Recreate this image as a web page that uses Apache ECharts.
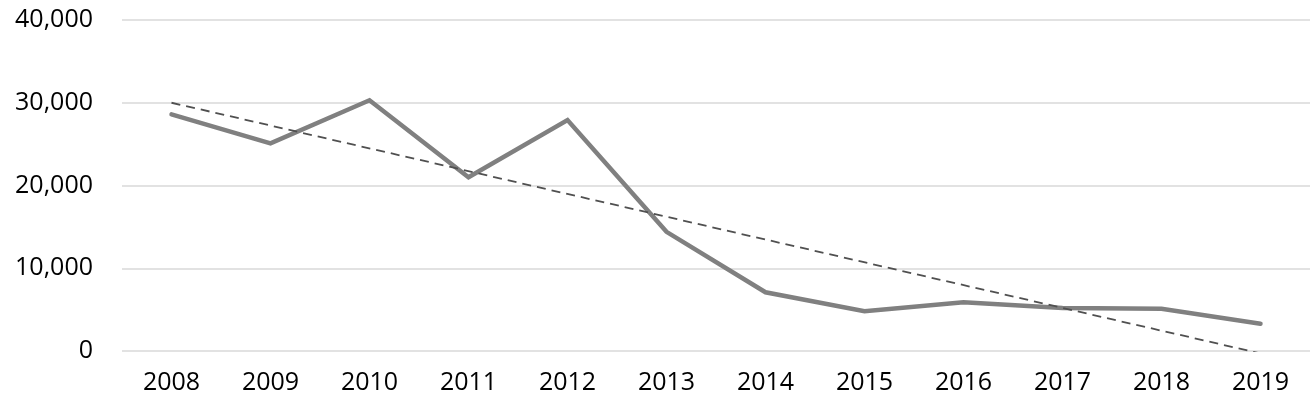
<!DOCTYPE html>
<html lang="en">
<head>
<meta charset="UTF-8">
<title>chart</title>
<script src="https://cdn.jsdelivr.net/npm/echarts@6/dist/echarts.min.js"></script>
<style>
  html, body { margin: 0; padding: 0; background: #fff; }
  #main { width: 1310px; height: 408px; }
</style>
</head>
<body>
<div id="main"></div>
<script>
// years on the x axis
var years = ['2008','2009','2010','2011','2012','2013','2014','2015','2016','2017','2018','2019'];
// values
var values = [28600, 25100, 30300, 21000, 27900, 14400, 7100, 4800, 5900, 5200, 5100, 3300];
// dashed trend line, only its two ends
var trend = [30000, null, null, null, null, null, null, null, null, null, null, -300];
// y tick values
var yTicks = [0, 10000, 20000, 30000, 40000];

var chart = echarts.init(document.getElementById('main'));

var option = {
  animation: false,
  grid: { left: 122, right: 0, top: 20, bottom: 57, containLabel: false },
  xAxis: {
    type: 'category',
    data: years,
    boundaryGap: true,
    axisLine: { show: false },
    axisTick: { show: false },
    axisLabel: {
      margin: 19,
      fontFamily: 'Open Sans',
      fontSize: 25,
      color: '#000'
    }
  },
  yAxis: {
    type: 'value',
    min: yTicks[0],
    max: yTicks[yTicks.length - 1],
    interval: 10000,
    axisLine: { show: false },
    axisTick: { show: false },
    splitLine: { lineStyle: { color: '#d9d9d9', width: 1.5 } },
    axisLabel: {
      margin: 29,
      fontFamily: 'Open Sans',
      fontSize: 25,
      color: '#000',
      formatter: function (v) { return v.toLocaleString('en-US'); }
    }
  },
  series: [
    {
      name: 'trend',
      type: 'line',
      data: trend,
      connectNulls: true,
      symbol: 'none',
      clip: true,
      lineStyle: { color: '#505050', width: 1.8, type: [9, 6] },
      z: 3
    },
    {
      name: 'value',
      type: 'line',
      data: values,
      symbol: 'none',
      lineStyle: { color: '#808080', width: 4.5, cap: 'round', join: 'miter' },
      z: 2
    }
  ]
};

chart.setOption(option);
</script>
</body>
</html>
